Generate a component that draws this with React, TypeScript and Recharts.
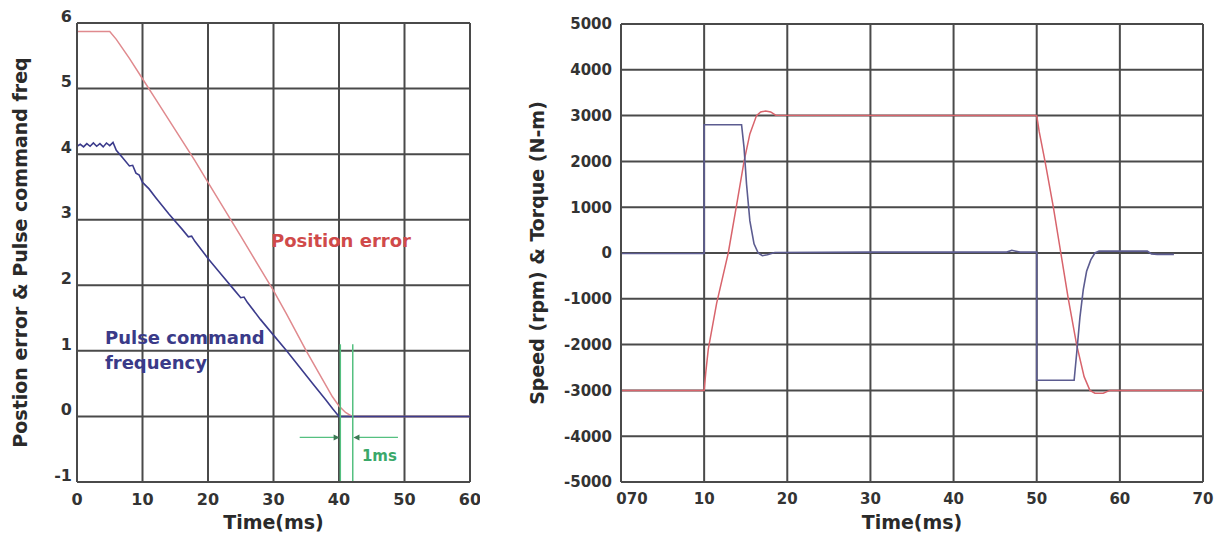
import { LineChart, Line, XAxis, YAxis, CartesianGrid, ReferenceLine, ReferenceDot } from 'recharts'

// left panel: position error vs pulse command frequency
const posErrTime = [0, 5, 6, 8, 10, 12, 15, 18, 20, 22, 25, 28, 30, 32, 35, 37, 39, 40, 41, 42, 60]
const posErr = [5.87, 5.87, 5.75, 5.46, 5.15, 4.84, 4.37, 3.9, 3.57, 3.24, 2.75, 2.25, 1.92, 1.56, 1.0, 0.65, 0.3, 0.16, 0.06, 0, 0]

const pulseTime = [
  0, 0.5, 1, 1.5, 2, 2.5, 3, 3.5, 4, 4.5, 5, 5.5, 6,
  7, 8, 8.5, 9, 9.5, 10, 10.5, 11, 12, 14, 16, 17, 17.5, 18, 20, 22, 24, 25, 25.5, 26,
  28, 30, 32, 34, 36, 38, 39, 40, 60,
]
const pulse = [
  4.12, 4.15, 4.11, 4.16, 4.12, 4.17, 4.12, 4.16, 4.11, 4.17, 4.13, 4.18, 4.06,
  3.94, 3.82, 3.83, 3.71, 3.68, 3.57, 3.52, 3.47, 3.34, 3.09, 2.86, 2.74, 2.75, 2.67, 2.41, 2.17, 1.93, 1.81, 1.82, 1.74,
  1.48, 1.24, 1.0, 0.75, 0.5, 0.25, 0.12, 0, 0,
]

const leftTimeTicks = [0, 10, 20, 30, 40, 50, 60]
const leftValueTicks = [-1, 0, 1, 2, 3, 4, 5, 6]

// right panel: speed and torque
const speedTime = [0, 10, 10.2, 10.5, 11.5, 12.9, 14, 14.8, 15.5, 16.3, 16.8, 17.4, 18, 18.6, 50, 50.3, 51, 52, 52.9, 53.8, 54.8, 55.7, 56.4, 57, 58, 58.8, 70]
const speed = [-3000, -3000, -2600, -2100, -1100, 0, 1150, 2000, 2600, 3000, 3080, 3100, 3080, 3010, 3000, 2650, 2000, 1000, 0, -1000, -2000, -2700, -3000, -3060, -3060, -3000, -3000]

const torqueTime = [0, 10, 10, 14.5, 14.8, 15.1, 15.5, 16, 16.5, 17, 17.6, 18.5, 30, 46.4, 47, 47.5, 48, 50, 50, 54.5, 54.8, 55.2, 55.6, 56, 56.5, 57, 57.5, 63.3, 63.8, 64.5, 66.5]
const torque = [-10, -10, 2800, 2800, 2300, 1500, 700, 200, 0, -60, -40, 10, 20, 20, 60, 40, 20, 20, -2780, -2780, -2200, -1400, -800, -400, -150, 0, 40, 40, -20, -30, -30]

const rightTimeTicks = [0, 10, 20, 30, 40, 50, 60, 70]
const rightValueTicks = [-5000, -4000, -3000, -2000, -1000, 0, 1000, 2000, 3000, 4000, 5000]

const toPoints = (xs: number[], ys: number[]) => xs.map((t, i) => ({ t, v: ys[i] }))

const FONT = '"DejaVu Sans", sans-serif'
const GRID = '#4a4a4a'
const GREEN = '#55c080'

const textShape = (text: string, color: string, size: number, anchor: 'start' | 'middle' = 'start') =>
  (p: any) => (
    <text x={p.cx} y={p.cy} fill={color} fontSize={size} fontWeight="bold" fontFamily={FONT} textAnchor={anchor} dominantBaseline="central">
      {text}
    </text>
  )

const arrowHead = (dir: number) => (p: any) => (
  <path d={`M${p.cx},${p.cy} l${-dir * 6},-3 l0,6 z`} fill="#3d7a55" />
)

const RightXTick = (p: any) => {
  const v = p.payload.value
  return (
    <text x={p.x + (v === 0 ? 11 : 0)} y={p.y} dy="0.71em" textAnchor="middle" fill="#333" fontSize={15} fontWeight="bold" fontFamily={FONT}>
      {v === 0 ? '070' : v}
    </text>
  )
}

export default function App() {
  const axisTick = { fill: '#333', fontSize: 16, fontWeight: 'bold', fontFamily: FONT }
  const titleStyle = { fill: '#2a2a2a', fontSize: 19, fontWeight: 'bold', fontFamily: FONT, textAnchor: 'middle' as const }

  return (
    <div style={{ position: 'absolute', left: 0, top: 0, width: 1226, height: 543, background: '#fff' }}>
      <div style={{ position: 'absolute', left: 0, top: 0 }}>
        <LineChart width={480} height={543} margin={{ top: 23, right: 10, bottom: 13, left: 15 }}>
          <CartesianGrid stroke={GRID} strokeWidth={2} />
          <XAxis
            dataKey="t" type="number" domain={[0, 60]} ticks={leftTimeTicks} height={48}
            tickLine={false} tickSize={0} tickMargin={12} axisLine={{ stroke: GRID, strokeWidth: 2 }}
            tick={axisTick}
            label={{ value: 'Time(ms)', position: 'insideBottom', offset: 1, style: titleStyle }}
          />
          <YAxis
            type="number" domain={[-1, 6]} ticks={leftValueTicks} width={62}
            tickLine={false} tickSize={0} tickMargin={5} axisLine={{ stroke: GRID, strokeWidth: 2 }}
            tick={{ ...axisTick, dy: -7 }}
            label={{ value: 'Postion error & Pulse command freq', angle: -90, position: 'insideLeft', offset: 5, style: titleStyle }}
          />
          <Line data={toPoints(posErrTime, posErr)} dataKey="v" type="linear" stroke="#e08a8e" strokeWidth={1.5} dot={false} isAnimationActive={false} />
          <Line data={toPoints(pulseTime, pulse)} dataKey="v" type="linear" stroke="#3c3c8c" strokeWidth={1.6} dot={false} isAnimationActive={false} />
          <ReferenceLine segment={[{ x: 40.2, y: 1.1 }, { x: 40.2, y: -1 }]} stroke={GREEN} strokeWidth={1.5} />
          <ReferenceLine segment={[{ x: 42.1, y: 1.1 }, { x: 42.1, y: -1 }]} stroke={GREEN} strokeWidth={1.5} />
          <ReferenceLine segment={[{ x: 34, y: -0.32 }, { x: 39.4, y: -0.32 }]} stroke={GREEN} strokeWidth={1.2} />
          <ReferenceLine segment={[{ x: 42.9, y: -0.32 }, { x: 49, y: -0.32 }]} stroke={GREEN} strokeWidth={1.2} />
          <ReferenceDot x={40.1} y={-0.32} shape={arrowHead(1)} />
          <ReferenceDot x={42.2} y={-0.32} shape={arrowHead(-1)} />
          <ReferenceDot x={43.5} y={-0.6} shape={textShape('1ms', '#3aa86a', 15)} />
          <ReferenceDot x={40.3} y={2.69} shape={textShape('Position error', '#d04a4a', 18, 'middle')} />
          <ReferenceDot x={4.27} y={1.2} shape={textShape('Pulse command', '#3a3a88', 18)} />
          <ReferenceDot x={4.27} y={0.83} shape={textShape('frequency', '#3a3a88', 18)} />
        </LineChart>
      </div>
      <div style={{ position: 'absolute', left: 480, top: 0 }}>
        <LineChart width={746} height={543} margin={{ top: 24, right: 23, bottom: 13, left: 52 }}>
          <CartesianGrid stroke={GRID} strokeWidth={2} />
          <XAxis
            dataKey="t" type="number" domain={[0, 70]} ticks={rightTimeTicks} height={48}
            tickLine={false} tickSize={0} tickMargin={11} axisLine={{ stroke: GRID, strokeWidth: 2 }}
            tick={RightXTick}
            label={{ value: 'Time(ms)', position: 'insideBottom', offset: 1, style: titleStyle }}
          />
          <YAxis
            type="number" domain={[-5000, 5000]} ticks={rightValueTicks} width={89}
            tickLine={false} tickSize={0} tickMargin={9} axisLine={{ stroke: GRID, strokeWidth: 2 }}
            tick={{ ...axisTick, fontSize: 15 }}
            label={{ value: 'Speed (rpm) & Torque (N-m)', angle: -90, position: 'insideLeft', offset: 5, style: titleStyle }}
          />
          <Line data={toPoints(speedTime, speed)} dataKey="v" type="linear" stroke="#d8646c" strokeWidth={1.5} dot={false} isAnimationActive={false} />
          <Line data={toPoints(torqueTime, torque)} dataKey="v" type="linear" stroke="#5c5c90" strokeWidth={1.6} dot={false} isAnimationActive={false} />
        </LineChart>
      </div>
    </div>
  )
}
